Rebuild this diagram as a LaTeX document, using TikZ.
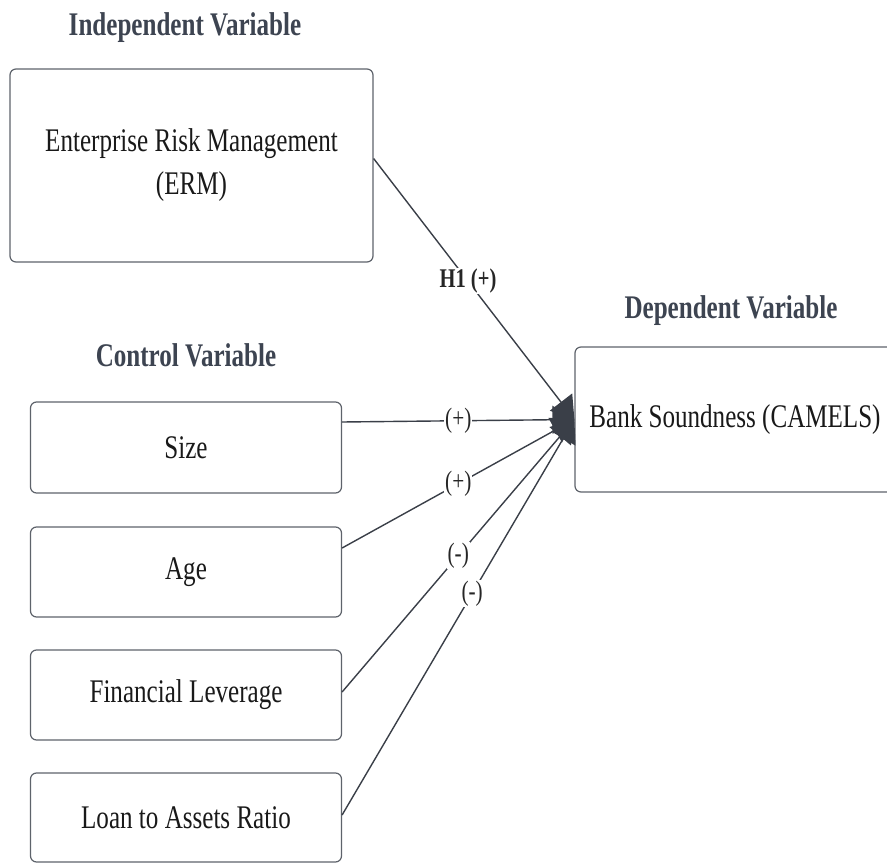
\documentclass[tikz,border=0pt]{standalone}
\usepackage{fontspec}
\setmainfont{Liberation Serif}[FakeStretch=0.76]
\usetikzlibrary{arrows.meta}
\definecolor{headcol}{HTML}{3D4451}
\definecolor{linecol}{HTML}{3A3F48}
\definecolor{boxcol}{HTML}{5E636B}
\tikzset{
  varbox/.style={draw=boxcol,line width=1.2pt,rounded corners=6pt,fill=white,
    align=center,text=black!90,font=\fontsize{33}{43}\selectfont},
  heading/.style={text=headcol,font=\bfseries\fontsize{33}{40}\selectfont},
  sign/.style={fill=white,inner sep=1pt,text=black!85,font=\fontsize{28}{32}\selectfont},
  link/.style={linecol,line width=1.4pt,-{Triangle[length=22pt,width=28pt]}}
}
\begin{document}
\begin{tikzpicture}
  [x=1pt,y=-1pt,every node/.style={inner sep=0pt}]
  \useasboundingbox (0,0) rectangle (887,864);
  \node (hind) [heading] at (185,28) {Independent Variable};
  \node (hctl) [heading] at (186,355) {Control Variable};
  \node (hdep) [heading] at (731,311) {Dependent Variable};

  \node (erm) [varbox,minimum width=363pt,minimum height=193pt] at (191.5,165.5) {Enterprise Risk Management\\(ERM)};
  \node (size) [varbox,minimum width=311pt,minimum height=91pt] at (186,447.5) {Size};
  \node (age) [varbox,minimum width=311pt,minimum height=90pt] at (186,572) {Age};
  \node (lev) [varbox,minimum width=311pt,minimum height=90pt] at (186,695) {Financial Leverage};
  \node (loan) [varbox,minimum width=311pt,minimum height=89pt] at (186,817.5) {Loan to Assets Ratio};
  \node (dv) [varbox,minimum width=320pt,minimum height=145pt] at (735,419.5) {Bank Soundness (CAMELS)};

  \draw[link] ([yshift=7pt]erm.east) -- node[sign,pos=.47,font=\bfseries\fontsize{27}{32}\selectfont] {H1 (+)} (dv.west);
  \foreach \from/\dy/\lbl/\p in {size/25.5/(+)/.5,age/24/(+)/.5,lev/3/(-)/.5,loan/2.5/(-)/.56}
    \draw[link] ([yshift=\dy pt]\from.east) -- node[sign,pos=\p] {\lbl} (dv.west);
\end{tikzpicture}
\end{document}
